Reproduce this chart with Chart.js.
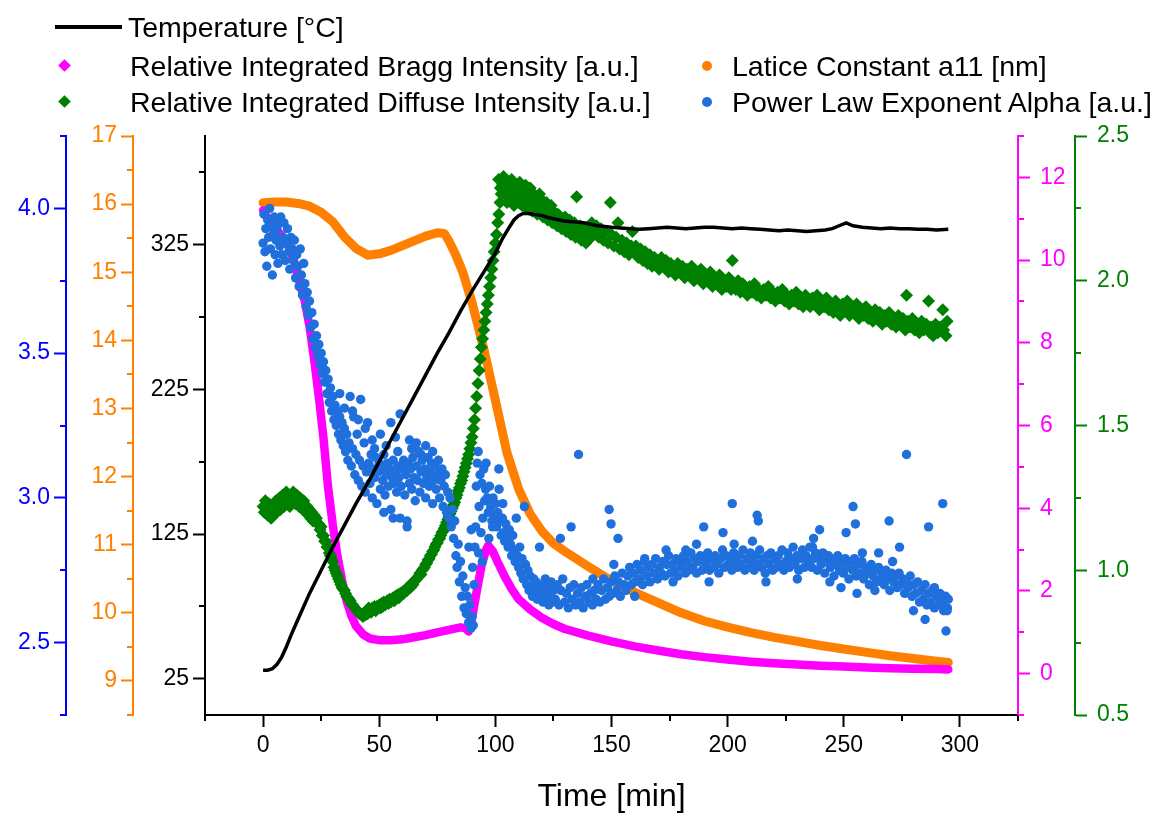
<!DOCTYPE html>
<html>
<head>
<meta charset="utf-8">
<script src="https://cdn.jsdelivr.net/npm/chart.js@4.4.0/dist/chart.umd.min.js"></script>
<style>
html,body{margin:0;padding:0;background:#fff;}
#wrap{position:relative;width:1155px;height:816px;overflow:hidden;background:#fff;}
#c{position:absolute;left:0;top:0;}
.lg{position:absolute;font-family:"Liberation Sans",Arial,sans-serif;font-size:28.5px;line-height:28px;color:#000;white-space:nowrap;}
.sw{position:absolute;}
</style>
</head>
<body>
<div id="wrap">
<canvas id="c" width="1155" height="816"></canvas>
<div class="sw" style="left:55px;top:25px;width:67px;height:4px;background:#000;"></div>
<div class="lg" style="left:128px;top:13px;">Temperature [°C]</div>
<div class="sw" style="left:60px;top:61px;width:9px;height:9px;background:#FF00FF;transform:rotate(45deg);"></div>
<div class="lg" style="left:130px;top:52px;">Relative Integrated Bragg Intensity [a.u.]</div>
<div class="sw" style="left:60px;top:97px;width:9px;height:9px;background:#008000;transform:rotate(45deg);"></div>
<div class="lg" style="left:130px;top:88px;">Relative Integrated Diffuse Intensity [a.u.]</div>
<div class="sw" style="left:702px;top:61px;width:10px;height:10px;border-radius:50%;background:#FF8000;"></div>
<div class="lg" style="left:732px;top:52px;">Latice Constant a11 [nm]</div>
<div class="sw" style="left:702px;top:97px;width:10px;height:10px;border-radius:50%;background:#1F6FDC;"></div>
<div class="lg" style="left:732px;top:88px;">Power Law Exponent Alpha [a.u.]</div>
</div>
<script>
// ---------------- DATA ----------------
const tempTime = [0,2,4,6,8,10,12,15,20,25,30,35,40,45,50,55,60,65,70,75,80,85,90,95,100,103,106,108,110,112,114,116,118,120,123,126,129,132,135,138,141,144,147,150,154,158,162,166,170,174,178,182,186,190,194,198,202,206,210,214,218,222,226,230,234,238,242,245,248,251,254,258,262,266,270,274,278,282,286,290,295];
const tempValue = [31,31,32,35,40,47,55,66,84,100,116,131,146,160,175,190,205,220,235,250,264,279,293,306,319,329,337,342,345,346.5,346.5,346,345.5,345,343.5,342.5,341.5,341,340.5,340,339,338,337.5,337,336.5,336,335.5,336,336.5,337,336.5,336,336.5,337,337,336.5,336,336.5,336,335.5,335,334.5,335,334.5,334,334.5,335,336,338,340,338,337,336.5,336,336.5,336,336,335.5,335.5,335,335.5];

const braggTime = [0,2,4,6,8,10,12,14,16,18,20,22,24,26,28,30,32,34,36,38,40,43,46,50,55,60,65,70,75,80,85,87,88.5,90,92,94,96,97,99,101,104,107,110,115,120,125,130,140,150,160,170,180,190,200,210,220,230,240,250,260,270,280,290,295];
const braggValue = [11.2,11.0,10.8,10.7,10.6,10.45,10.2,9.85,9.4,9.0,8.4,7.6,6.7,5.7,4.5,3.6,2.85,2.25,1.75,1.4,1.15,0.95,0.85,0.81,0.81,0.83,0.88,0.93,1.0,1.06,1.12,1.1,1.02,1.35,2.0,2.6,3.0,3.1,2.95,2.7,2.35,2.05,1.8,1.55,1.35,1.2,1.08,0.92,0.78,0.66,0.56,0.47,0.4,0.34,0.29,0.25,0.22,0.19,0.17,0.15,0.13,0.12,0.11,0.1];

const latticeTime = [0,5,10,15,20,25,30,35,40,45,50,55,60,65,70,75,78,80,83,86,90,95,100,105,110,115,120,125,130,140,150,160,170,180,190,200,210,220,230,240,250,260,270,280,290,295];
const latticeValue = [16.02,16.03,16.03,16.01,15.97,15.88,15.74,15.52,15.35,15.25,15.27,15.32,15.39,15.46,15.53,15.58,15.57,15.46,15.25,15.0,14.55,13.88,13.12,12.35,11.82,11.45,11.2,11.02,10.9,10.68,10.47,10.3,10.15,10.0,9.88,9.79,9.71,9.64,9.58,9.52,9.47,9.42,9.37,9.33,9.29,9.27];

const diffuseTime = [
0,0.5,1,1.5,2,2.5,3,3.5,4,4.5,5,5.5,6,6.5,7,7.5,8,8.5,9,9.5,10,10.5,11,11.5,12,12.5,13,13.5,14,14.5,15,15.5,16,16.5,17,17.5,18,18.5,19,19.5,20,20.5,21,21.5,
22,22.5,23,23.5,24,24.5,25,25.5,26,26.5,27,27.5,28,28.5,29,29.5,30,30.5,31,31.5,32,32.5,33,33.5,34,34.5,35,35.5,36,36.5,37,37.5,38,38.5,39,39.5,40,40.5,41,41.5,42,42.5,43,43.5,44,
44.5,45,45.5,46,46.5,47,47.5,48,48.5,49,
49.5,50,50.5,51,51.5,52,52.5,53,53.5,54,
54.5,55,55.5,56,56.5,57,57.5,58,58.5,59,
59.5,60,60.5,61,61.5,62,62.5,63,63.5,64,
64.5,65,65.5,66,66.5,67,67.5,68,68.5,69,
69.5,70,70.5,71,71.5,72,72.5,73,73.5,74,
74.5,75,75.5,76,76.5,77,77.5,78,78.5,79,79.5,
80,80.5,81,81.5,82,82.5,83,83.5,84,84.5,
85,85.5,86,86.5,87,87.5,88,88.5,89,89.5,
90,90.5,91,91.5,92,92.5,93,93.5,94,94.5,
95,95.5,96,96.5,97,97.5,98,98.5,99,99.5,
100,100.5,101,101.5,102,102.5,103,
103.5,104,104.5,105,105.5,106,106.5,107,107.5,108,
108.5,109,109.5,110,110.5,111,111.5,112,112.5,113,
113.5,114,114.5,115,115.5,116,116.5,117,117.5,118,
118.5,119,119.5,120,120.5,121,121.5,122,122.5,123,
123.5,124,124.5,125,125.5,126,126.5,127,127.5,128,
128.5,129,129.5,130,130.5,131,131.5,132,132.5,133,
133.5,134,134.5,135,135.5,136,136.5,137,137.5,138,
138.5,139,139.5,140,
140.5,141.5,142.5,143.5,144.5,145.5,146.5,147.5,148.5,149.5,
150,151,152,152.8,153.5,154.5,155.5,156.5,157.5,158.5,
159,159.5,160.5,161.5,162.5,163.5,164.5,165.5,166.5,167.5,
168.5,169.5,170.5,171.5,172.5,173.5,174.5,175.5,176.5,177.5,
178.5,179.5,180.5,181.5,182.5,183.5,184.5,185.5,186.5,187.5,
188.5,189.5,190.5,191.5,192.5,193.5,194.5,195.5,196.5,197.5,
198.5,199.5,200.5,201.5,202,202.5,203.5,204.5,205.5,206.5,
207.5,208.5,209.5,210.5,211.5,212.5,213.5,214.5,215.5,216.5,
217.5,218.5,219.5,220.5,221.5,222.5,223.5,224.5,225.5,226.5,
227.5,228.5,229.5,230.5,231.5,232.5,233.5,234.5,235.5,236.5,
237.5,238.5,239.5,240.5,241.5,242.5,243.5,244.5,245.5,246.5,
247.5,248.5,249.5,250.5,251.5,252.5,253.5,254.5,255.5,256.5,
257.5,258.5,259.5,260.5,261.5,262.5,263.5,264.5,265.5,266.5,
267.5,268.5,269.5,270.5,271.5,272.5,273.5,274.5,275.5,276.5,
277,277.5,278.5,279.5,280.5,281.5,282.5,283.5,284.5,285.5,
286.5,287,287.5,288.5,289.5,290.5,291.5,292.6,293,294,
294.5,101.4,102.2];
const diffuseValue = [
1.22,1.2,1.24,1.21,1.19,1.23,1.2,1.18,1.22,1.19,1.21,1.24,1.2,1.22,1.25,1.21,1.23,1.26,1.22,1.24,1.27,1.23,1.25,1.22,1.26,1.24,1.27,1.25,1.23,1.26,1.24,1.22,1.25,1.23,1.21,1.24,1.22,1.2,1.22,1.19,1.21,1.18,1.2,1.17,
1.19,1.17,1.18,1.16,1.16,1.14,1.15,1.12,1.12,1.1,1.1,1.08,1.08,1.06,1.05,1.04,1.03,1.01,1.0,0.99,0.98,0.97,0.96,0.95,0.94,0.935,0.93,0.92,0.91,0.905,0.9,0.895,0.885,0.88,0.875,0.87,0.865,0.86,0.855,0.85,0.85,0.845,0.84,0.85,0.845,
0.86,0.85,0.87,0.86,0.855,0.87,0.865,0.875,0.86,0.875,
0.87,0.88,0.87,0.885,0.875,0.89,0.88,0.885,0.895,0.885,
0.9,0.89,0.9,0.905,0.895,0.91,0.905,0.915,0.905,0.92,
0.915,0.925,0.92,0.93,0.935,0.93,0.94,0.945,0.94,0.955,
0.95,0.96,0.965,0.97,0.975,0.98,0.99,0.985,1.0,1.005,
1.01,1.02,1.025,1.035,1.04,1.05,1.055,1.065,1.07,1.08,
1.09,1.095,1.105,1.11,1.12,1.13,1.135,1.145,1.155,1.165,1.175,
1.185,1.195,1.205,1.215,1.225,1.235,1.25,1.26,1.275,1.285,
1.3,1.31,1.325,1.34,1.355,1.37,1.385,1.4,1.42,1.44,
1.46,1.49,1.52,1.56,1.6,1.645,1.69,1.73,1.77,1.8,
1.83,1.86,1.89,1.92,1.95,1.98,2.01,2.04,2.07,2.1,
2.13,2.16,2.2,2.23,2.27,2.3,2.33,
2.36,2.3,2.33,2.27,2.34,2.31,2.28,2.35,2.3,2.26,
2.33,2.29,2.32,2.27,2.34,2.3,2.26,2.31,2.28,2.33,
2.25,2.3,2.27,2.32,2.28,2.24,2.3,2.26,2.29,2.23,
2.27,2.3,2.25,2.28,2.22,2.26,2.24,2.27,2.21,2.25,
2.22,2.26,2.2,2.24,2.21,2.23,2.19,2.23,2.2,2.22,
2.18,2.21,2.19,2.22,2.17,2.2,2.18,2.21,2.16,2.19,
2.17,2.2,2.15,2.29,2.18,2.16,2.19,2.14,2.17,2.15,
2.18,2.13,2.16,2.14,
2.18,2.2,2.16,2.19,2.15,2.18,2.14,2.17,2.13,2.27,
2.16,2.12,2.15,2.2,2.11,2.14,2.1,2.13,2.09,2.12,
2.17,2.1,2.12,2.08,2.11,2.07,2.1,2.06,2.09,2.05,
2.08,2.06,2.04,2.08,2.05,2.07,2.03,2.06,2.04,2.02,
2.06,2.03,2.05,2.01,2.04,2.02,2.05,2.0,2.03,2.01,
2.04,1.99,2.02,2.0,2.03,1.98,2.01,1.99,2.02,1.97,
2.0,1.98,2.01,1.97,2.07,1.99,1.97,2.0,1.96,1.99,
1.97,1.95,1.98,1.96,1.99,1.95,1.97,1.94,1.97,1.95,
1.98,1.94,1.96,1.93,1.96,1.94,1.97,1.93,1.95,1.92,
1.95,1.93,1.96,1.92,1.94,1.91,1.95,1.93,1.91,1.94,
1.92,1.95,1.9,1.93,1.91,1.94,1.9,1.92,1.89,1.93,
1.91,1.88,1.92,1.9,1.93,1.88,1.91,1.89,1.92,1.87,
1.9,1.88,1.91,1.87,1.89,1.86,1.9,1.87,1.89,1.85,
1.88,1.86,1.89,1.85,1.87,1.84,1.88,1.85,1.87,1.83,
1.95,1.86,1.84,1.87,1.83,1.85,1.82,1.86,1.83,1.85,
1.93,1.82,1.84,1.81,1.85,1.82,1.84,1.9,1.83,1.81,
1.86,2.35,2.32];

const alphaTime = [
0.0,0.4,0.8,1.2,1.6,2.0,2.4,2.8,3.2,3.6,
4.0,4.4,4.8,5.2,5.6,6.0,6.4,6.8,7.2,7.6,
8.0,8.5,9.0,9.5,10.0,10.5,11.0,11.5,12.0,12.5,
13.0,13.5,14.0,14.5,15.0,15.5,16.0,16.5,17.0,17.5,
18.0,18.5,19.0,19.5,20.0,20.5,21.0,21.5,22.0,22.5,
23.0,23.5,24.0,24.5,25.0,25.5,26.0,26.5,27.0,27.5,
28.0,28.5,29.0,29.5,30.0,30.5,31.0,31.5,32.0,32.5,
33.0,33.5,34.0,34.5,35.0,35.5,36.0,36.5,37.0,37.5,
38.0,38.5,39.0,39.5,40.0,40.5,41.0,41.5,42.0,42.5,
43.0,43.5,44.0,44.5,45.0,33.0,35.0,38.5,41.0,44.0,
45.5,46,46.5,47,47.5,48,48.5,49,49.5,50,
50.5,51,51.5,52,52.5,53,53.5,54,54.5,55,
55.5,56,56.5,57,57.5,58,58.5,59,59.5,60,
60.5,61,61.5,62,62.5,63,63.5,64,64.5,65,
65.5,66,66.5,67,67.5,68,68.5,69,69.5,70,
70.5,71,71.5,72,72.5,73,73.5,74,74.5,75,
75.5,76,76.5,77,77.5,78,78.5,79,79.5,80,
80.5,81,81.5,47,50.5,55,57,63,66,70,
52,56,59,62,48,53,58,64,68,73,
82,82.5,83,83.5,84,84.5,85,85.5,86,86.5,
87,87.5,88,88.5,89,89.5,90,90.5,90.8,91.2,
91.5,91.8,92.2,92.6,93,93.4,93.8,94.2,94.6,95,
95.4,95.8,96.5,97,97.5,98,98.5,99,99.5,100,
100.5,101,101.5,102,102.5,103,103.5,104,104.5,105,
105.5,106,106.5,107,107.5,108,108.5,109,109.5,110,
110.5,111,111.5,112,112.5,113,113.5,114,114.5,115,
115.5,116,116.5,117,117.5,118,118.5,119,119.5,120,
120.5,121,121.5,122,122.5,123,123.5,124,124.5,125,
88.6,89.6,90.2,92.8,94.4,96,97.2,98.8,101.6,103.2,
125.8,126.6,127.4,128.2,129,129.8,130.6,131.4,132.2,133,
133.8,134.6,135.4,136.2,137,137.8,138.6,139.4,140.2,141,
141.8,142.6,143.4,144.2,145,145.8,146.6,147.4,148.2,149,
149.8,150.6,151.4,152.2,153,153.8,154.6,155.4,156.2,157,
157.8,158.6,159.4,160.2,161,161.8,162.6,163.4,164.2,165,
165.8,166.6,167.4,168.2,169,169.8,170.6,171.4,172.2,173,
173.8,174.6,175.4,176.2,177,177.8,178.6,179.4,180.2,181,
181.8,182.6,183.4,184.2,185,185.8,186.6,187.4,188.2,189,
189.8,190.6,191.4,192.2,193,193.8,194.6,195.4,196.2,197,
197.8,198.6,199.4,200.2,201,201.8,202.6,203.4,204.2,205,
205.8,206.6,207.4,208.2,209,209.8,210.6,211.4,212.2,213,
213.8,214.6,215.4,216.2,217,217.8,218.6,219.4,220.2,221,
221.8,222.6,223.4,224.2,225,225.8,226.6,227.4,228.2,229,
229.8,230.6,231.4,232.2,233,233.8,234.6,235.4,236.2,237,
237.8,238.6,239.4,240.2,241,241.8,242.6,243.4,244.2,245,
245.8,246.6,247.4,248.2,249,249.8,250.6,251.4,252.2,253,
253.8,254.6,255.4,256.2,257,257.8,258.6,259.4,260.2,261,
261.8,262.6,263.4,264.2,265,265.8,266.6,267.4,268.2,269,
269.8,270.6,271.4,272.2,273,273.8,274.6,275.4,276.2,277,
277.8,278.6,279.4,280.2,281,281.8,282.6,283.4,284.2,285,
285.8,286.6,287.4,288.2,289,289.8,290.6,291.4,292.2,293,
293.8,294.6,295,135.8,149,149.8,152.8,132.6,128,151,
164.3,173.5,176.5,186.6,189.7,192,198,202,202.8,210.7,
212.7,213.2,216.5,236.5,237,239.6,248.8,251,254,255,
255.7,263.4,265,269.5,274,277,280,285,286.5,292.6,
294,294.5,289,142,160,182,230,244,258,271];
const alphaValue = [
3.88,3.98,3.85,3.93,3.80,3.96,3.90,4.00,3.86,3.94,
3.77,3.91,3.97,3.84,3.89,3.93,3.81,3.95,3.87,3.97,
3.84,3.9,3.95,3.82,3.88,3.93,3.85,3.79,3.9,3.86,
3.82,3.89,3.76,3.84,3.8,3.73,3.86,3.77,3.7,3.81,
3.74,3.66,3.71,3.63,3.68,3.59,3.64,3.55,3.6,3.52,
3.56,3.49,3.53,3.46,3.5,3.43,3.47,3.4,3.44,3.36,
3.41,3.33,3.38,3.3,3.35,3.27,3.32,3.25,3.3,3.22,
3.28,3.2,3.26,3.18,3.24,3.16,3.22,3.13,3.19,3.35,
3.11,3.17,3.28,3.08,3.15,3.22,3.06,3.13,3.34,3.04,
3.11,3.19,3.02,3.09,3.26,3.36,3.31,3.3,3.27,3.24,
3.12,3.05,3.15,3.0,3.1,3.07,3.14,2.98,3.09,3.12,
3.03,3.1,3.06,3.15,3.01,3.08,3.12,3.04,3.1,2.96,
3.07,3.13,3.05,3.09,3.02,3.11,3.07,3.29,3.04,3.1,
3.13,3.01,3.08,2.92,3.12,3.05,3.1,3.03,3.14,3.07,
2.99,3.11,3.06,3.16,3.02,3.09,3.13,3.05,3.1,3.0,
3.07,3.14,3.04,3.09,3.12,2.98,3.06,3.11,3.03,3.08,
3.13,3.0,3.06,3.1,2.97,3.04,3.08,2.95,3.02,2.93,
3.0,2.9,2.96,3.2,3.22,3.26,3.21,3.2,3.19,3.18,
2.95,2.93,2.93,2.9,3.17,3.18,3.16,3.17,3.15,3.16,
2.86,2.92,2.8,2.76,2.84,2.71,2.78,2.66,2.73,2.62,
2.69,2.6,2.66,2.57,2.63,2.55,2.59,2.56,2.7,2.83,
2.9,3.04,3.12,3.16,2.97,3.08,2.88,3.05,2.93,3.1,
2.99,3.03,3.0,2.95,3.04,2.97,2.92,3.0,2.94,2.98,
2.9,2.95,3.1,2.92,2.87,2.93,2.88,2.85,2.91,2.86,
2.83,2.89,2.84,2.8,2.87,2.82,2.78,2.93,2.8,2.76,
2.83,2.74,2.79,2.72,2.97,2.77,2.7,2.75,2.68,2.73,
2.69,2.66,2.72,2.67,2.71,2.65,2.69,2.83,2.66,2.7,
2.64,2.68,2.72,2.65,2.69,2.63,2.67,2.71,2.64,2.68,
2.83,2.89,2.76,2.81,2.78,3.12,2.86,2.9,3.03,2.98,
2.65,2.7,2.63,2.68,2.72,2.64,2.67,2.62,2.69,2.65,
2.7,2.63,2.67,2.64,2.69,2.62,2.66,2.7,2.64,2.67,
2.63,2.68,2.65,2.7,2.64,2.68,2.72,2.65,2.69,2.66,
2.71,2.67,2.73,2.68,2.71,2.66,2.74,2.7,2.68,2.73,
2.76,2.7,2.74,2.71,2.77,2.72,2.75,2.7,2.78,2.73,
2.76,2.71,2.77,2.74,2.79,2.72,2.76,2.74,2.78,2.73,
2.77,2.8,2.74,2.77,2.75,2.79,2.73,2.78,2.76,2.8,
2.74,2.78,2.75,2.81,2.76,2.79,2.74,2.78,2.8,2.75,
2.79,2.77,2.81,2.75,2.79,2.76,2.8,2.77,2.74,2.79,
2.82,2.76,2.8,2.77,2.79,2.75,2.81,2.78,2.76,2.8,
2.77,2.82,2.75,2.79,2.76,2.81,2.78,2.75,2.8,2.77,
2.82,2.76,2.79,2.74,2.8,2.77,2.81,2.75,2.79,2.76,
2.8,2.77,2.82,2.75,2.78,2.81,2.76,2.79,2.83,2.77,
2.8,2.75,2.79,2.82,2.76,2.8,2.78,2.83,2.76,2.79,
2.81,2.75,2.79,2.77,2.81,2.74,2.78,2.8,2.76,2.79,
2.73,2.77,2.8,2.75,2.78,2.74,2.79,2.76,2.72,2.78,
2.75,2.79,2.73,2.77,2.74,2.78,2.72,2.76,2.74,2.7,
2.77,2.73,2.75,2.71,2.76,2.72,2.74,2.7,2.75,2.72,
2.68,2.74,2.71,2.73,2.69,2.74,2.7,2.72,2.67,2.71,
2.69,2.73,2.66,2.7,2.67,2.71,2.64,2.68,2.65,2.7,
2.63,2.67,2.64,2.68,2.62,2.66,2.63,2.67,2.64,2.61,
2.66,2.62,2.65,3.15,2.96,2.91,2.86,2.9,2.86,2.77,
2.79,2.82,2.71,2.84,2.9,2.71,2.88,2.98,2.84,2.85,
2.94,2.92,2.71,2.83,2.86,2.89,2.69,2.88,2.97,2.91,
2.67,2.68,2.81,2.92,2.83,3.15,2.61,2.58,2.9,2.98,
2.54,2.61,2.69,2.72,2.66,2.82,2.72,2.71,2.81,2.78];

// tick values
const xMajorTicks = [0,50,100,150,200,250,300];
const xMinorTicks = [-25,25,75,125,175,225,275,325];
const tempMajorTicks = [25,125,225,325];
const tempMinorTicks = [75,175,275,375];
const latticeMajorTicks = [9,10,11,12,13,14,15,16,17];
const latticeMinorTicks = [8.5,9.5,10.5,11.5,12.5,13.5,14.5,15.5,16.5];
const alphaMajorTicks = [2.5,3.0,3.5,4.0];
const alphaMinorTicks = [2.25,2.75,3.25,3.75,4.25];
const braggMajorTicks = [0,2,4,6,8,10,12];
const braggMinorTicks = [-1,1,3,5,7,9,11,13];
const diffuseMajorTicks = [0.5,1.0,1.5,2.0,2.5];
const diffuseMinorTicks = [0.75,1.25,1.75,2.25];

// ---------------- CHART ----------------
const pts = (xs, ys) => xs.map((x, i) => ({x: x, y: ys[i]}));
const FONT = "'Liberation Sans', Arial, sans-serif";
Chart.defaults.font.family = FONT;
const TICK_LEN = 12, MINOR_LEN = 6;
const C = {black:'#000000', orange:'#FF8000', blue:'#0000FF', magenta:'#FF00FF', green:'#008000', dot:'#1F6FDC'};

const minorMap = {x: xMinorTicks, yTemp: tempMinorTicks, yLat: latticeMinorTicks, yAlpha: alphaMinorTicks, yBragg: braggMinorTicks, yDiff: diffuseMinorTicks};
const minorTickPlugin = {
  id: 'minorTicks',
  afterDraw(chart) {
    const ctx = chart.ctx;
    for (const id of Object.keys(minorMap)) {
      const s = chart.scales[id];
      if (!s) continue;
      ctx.save();
      ctx.strokeStyle = s.options.border.color;
      ctx.lineWidth = 2;
      ctx.beginPath();
      for (const v of minorMap[id]) {
        const p = Math.round(s.getPixelForValue(v));
        if (s.position === 'left') { ctx.moveTo(s.right, p); ctx.lineTo(s.right - MINOR_LEN, p); }
        else if (s.position === 'right') { ctx.moveTo(s.left, p); ctx.lineTo(s.left + MINOR_LEN, p); }
        else { ctx.moveTo(p, s.top); ctx.lineTo(p, s.top + MINOR_LEN); }
      }
      ctx.stroke();
      ctx.restore();
    }
  }
};

function yAxis(pos, weight, color, min, max, major, width, fmt, pad) {
  return {
    type: 'linear', position: pos, weight: weight, min: min, max: max,
    afterBuildTicks: s => { s.ticks = major.map(v => ({value: v})); },
    afterFit: s => { s.width = width; },
    border: {display: true, color: color, width: 2},
    grid: {drawOnChartArea: false, drawTicks: true, tickLength: TICK_LEN, tickColor: color, tickWidth: 2},
    ticks: {color: color, font: {size: 23, family: FONT}, padding: pad, autoSkip: false, callback: fmt}
  };
}
const fmt0 = v => String(v);
const fmt1 = v => Number(v).toFixed(1);

new Chart(document.getElementById('c'), {
  type: 'scatter',
  data: {
    datasets: [
      {label: 'Temperature [°C]', data: pts(tempTime, tempValue), yAxisID: 'yTemp', showLine: true, borderColor: C.black, borderWidth: 3.5, pointRadius: 0, order: 0},
      {label: 'Power Law Exponent Alpha [a.u.]', data: pts(alphaTime, alphaValue), yAxisID: 'yAlpha', pointStyle: 'circle', pointRadius: 4.7, pointBackgroundColor: C.dot, pointBorderWidth: 0, order: 1},
      {label: 'Relative Integrated Diffuse Intensity [a.u.]', data: pts(diffuseTime, diffuseValue), yAxisID: 'yDiff', pointStyle: 'rectRot', pointRadius: 6.5, pointBackgroundColor: C.green, pointBorderWidth: 0, order: 2},
      {label: 'Relative Integrated Bragg Intensity [a.u.]', data: pts(braggTime, braggValue), yAxisID: 'yBragg', showLine: true, borderColor: C.magenta, borderWidth: 8.5, borderCapStyle: 'round', borderJoinStyle: 'round', pointRadius: 0, order: 3},
      {label: 'Latice Constant a11 [nm]', data: pts(latticeTime, latticeValue), yAxisID: 'yLat', showLine: true, borderColor: C.orange, borderWidth: 9, borderCapStyle: 'round', borderJoinStyle: 'round', pointRadius: 0, order: 4}
    ]
  },
  options: {
    responsive: false, animation: false, devicePixelRatio: 1, events: [],
    layout: {padding: {top: 136, left: 0, right: 0, bottom: 0}},
    plugins: {legend: {display: false}, tooltip: {enabled: false}},
    scales: {
      x: {
        type: 'linear', position: 'bottom', min: -25, max: 325,
        afterBuildTicks: s => { s.ticks = xMajorTicks.map(v => ({value: v})); },
        afterFit: s => { s.height = 101; },
        border: {display: true, color: C.black, width: 2},
        grid: {drawOnChartArea: false, drawTicks: true, tickLength: TICK_LEN, tickColor: C.black, tickWidth: 2},
        ticks: {color: C.black, font: {size: 23, family: FONT}, padding: 5, autoSkip: false, maxRotation: 0, callback: fmt0},
        title: {display: true, text: 'Time [min]', color: C.black, font: {size: 32, family: FONT}, padding: {top: 0, bottom: 0}}
      },
      yTemp: yAxis('left', 0, C.black, 0, 400, tempMajorTicks, 72, fmt0, 4),
      yLat: yAxis('left', 1, C.orange, 8.5, 17, latticeMajorTicks, 67, fmt0, 4),
      yAlpha: yAxis('left', 2, C.blue, 2.25, 4.25, alphaMajorTicks, 66, fmt1, 4),
      yBragg: yAxis('right', 0, C.magenta, -1, 13, braggMajorTicks, 57, fmt0, 10),
      yDiff: yAxis('right', 1, C.green, 0.5, 2.5, diffuseMajorTicks, 80, fmt1, 10)
    }
  },
  plugins: [minorTickPlugin]
});
</script>
</body>
</html>
